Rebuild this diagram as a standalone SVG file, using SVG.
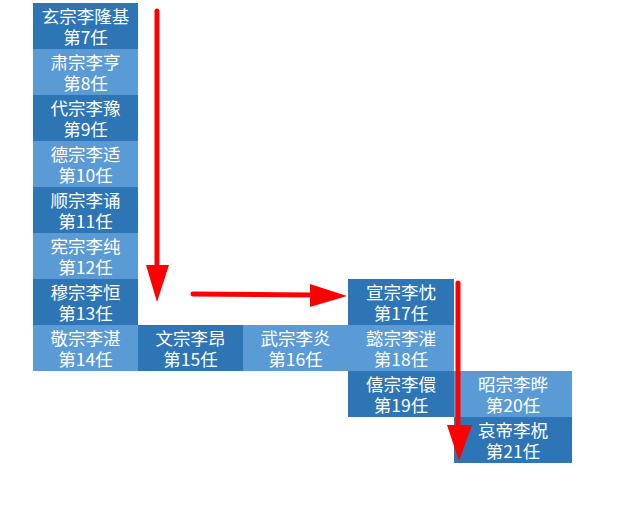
<svg xmlns="http://www.w3.org/2000/svg" width="623" height="516" viewBox="0 0 623 516">
<style>
.d{fill:#2E75B6}.l{fill:#5B9BD5}
text{font-family:"Microsoft YaHei","Noto Sans CJK SC",sans-serif;font-size:17.5px;fill:#fff;text-anchor:middle}
.a{stroke:#FF0000;stroke-width:5;fill:none;stroke-linecap:round}
.h{fill:#FF0000}
</style>
<rect width="623" height="516" fill="#fff"/>
<g id="n7"><rect class="d" x="33" y="3" width="105" height="46"/><text x="85.5" y="22.5">玄宗李隆基<tspan x="85.5" dy="21">第7任</tspan></text></g>
<g id="n8"><rect class="l" x="33" y="49" width="105" height="46"/><text x="85.5" y="68.5">肃宗李亨<tspan x="85.5" dy="21">第8任</tspan></text></g>
<g id="n9"><rect class="d" x="33" y="95" width="105" height="46"/><text x="85.5" y="114.5">代宗李豫<tspan x="85.5" dy="21">第9任</tspan></text></g>
<g id="n10"><rect class="l" x="33" y="141" width="105" height="46"/><text x="85.5" y="160.5">德宗李适<tspan x="85.5" dy="21">第10任</tspan></text></g>
<g id="n11"><rect class="d" x="33" y="187" width="105" height="46"/><text x="85.5" y="206.5">顺宗李诵<tspan x="85.5" dy="21">第11任</tspan></text></g>
<g id="n12"><rect class="l" x="33" y="233" width="105" height="46"/><text x="85.5" y="252.5">宪宗李纯<tspan x="85.5" dy="21">第12任</tspan></text></g>
<g id="n13"><rect class="d" x="33" y="279" width="105" height="46"/><text x="85.5" y="298.5">穆宗李恒<tspan x="85.5" dy="21">第13任</tspan></text></g>
<g id="n14"><rect class="l" x="33" y="325" width="105" height="46"/><text x="85.5" y="344.5">敬宗李湛<tspan x="85.5" dy="21">第14任</tspan></text></g>
<g id="n15"><rect class="d" x="138" y="325" width="105" height="46"/><text x="190.5" y="344.5">文宗李昂<tspan x="190.5" dy="21">第15任</tspan></text></g>
<g id="n16"><rect class="l" x="243" y="325" width="105" height="46"/><text x="295.5" y="344.5">武宗李炎<tspan x="295.5" dy="21">第16任</tspan></text></g>
<g id="n17"><rect class="d" x="348" y="279" width="106" height="46"/><text x="401" y="298.5">宣宗李忱<tspan x="401" dy="21">第17任</tspan></text></g>
<g id="n18"><rect class="l" x="348" y="325" width="106" height="46"/><text x="401" y="344.5">懿宗李漼<tspan x="401" dy="21">第18任</tspan></text></g>
<g id="n19"><rect class="d" x="348" y="371" width="106" height="46"/><text x="401" y="390.5">僖宗李儇<tspan x="401" dy="21">第19任</tspan></text></g>
<g id="n20"><rect class="l" x="454" y="371" width="118" height="46"/><text x="513" y="390.5">昭宗李晔<tspan x="513" dy="21">第20任</tspan></text></g>
<g id="n21"><rect class="d" x="454" y="417" width="118" height="46"/><text x="513" y="436.5">哀帝李柷<tspan x="513" dy="21">第21任</tspan></text></g>
<g id="connectors">
<line class="a" x1="157" y1="11" x2="157" y2="268"/>
<polygon class="h" points="146,265 169,265 157,302"/>
<line class="a" x1="193" y1="294" x2="312" y2="295"/>
<polygon class="h" points="310,284 347,296 310,307"/>
<line class="a" x1="458" y1="283" x2="458" y2="428"/>
<polygon class="h" points="447,425 472,425 459,461"/>
</g>
</svg>
